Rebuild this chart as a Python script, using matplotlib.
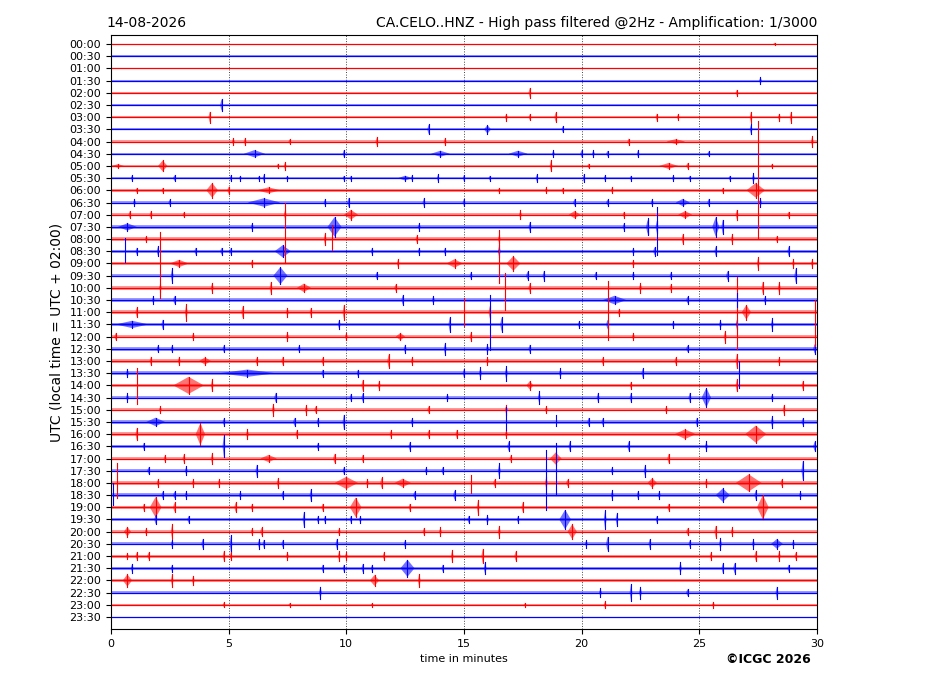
import matplotlib
matplotlib.use("Agg")
import matplotlib.pyplot as plt

# --- data read from the helicorder ---
row_labels = ["%02d:%02d" % (h, m) for h in range(24) for m in (0, 30)]

# background noise half-width of each trace (in row units)
noise = [0.03, 0.07, 0.07, 0.07, 0.07, 0.09, 0.09, 0.09, 0.09, 0.09,
         0.10, 0.10, 0.14, 0.14, 0.14, 0.14, 0.14, 0.14, 0.14, 0.14,
         0.15, 0.15, 0.15, 0.14, 0.14, 0.14, 0.14, 0.14, 0.14, 0.14,
         0.14, 0.14, 0.14, 0.14, 0.14, 0.14, 0.14, 0.14, 0.14, 0.14,
         0.12, 0.12, 0.12, 0.12, 0.12, 0.11, 0.07, 0.03]

# events per row: (minute, half amplitude in rows[, duration in minutes])
row_events = [
    [(28.2, 0.1)],
    [],
    [],
    [(27.6, 0.3)],
    [(17.8, 0.4), (26.6, 0.25)],
    [(4.7, 0.5)],
    [(4.2, 0.45), (16.8, 0.3), (17.8, 0.25), (18.9, 0.4), (23.2, 0.3), (24.1, 0.25), (27.2, 0.45), (28.4, 0.3), (28.9, 0.45)],
    [(13.5, 0.4), (16.0, 0.35, 0.3), (19.2, 0.25), (27.2, 0.4)],
    [(5.2, 0.3), (5.7, 0.3), (7.6, 0.2), (11.3, 0.35), (14.2, 0.3), (22.0, 0.25), (24.0, 0.2, 0.8), (29.8, 0.45)],
    [(6.1, 0.3, 0.9), (9.9, 0.3), (14.0, 0.25, 0.8), (17.3, 0.25, 0.8), (18.8, 0.3), (20.0, 0.3), (20.5, 0.3), (21.1, 0.25), (22.4, 0.3), (25.4, 0.2)],
    [(0.3, 0.15, 0.5), (2.2, 0.45, 0.4), (7.1, 0.2), (7.4, 0.3), (18.7, 0.45), (20.3, 0.2), (23.7, 0.25, 0.8), (24.5, 0.25), (28.1, 0.2)],
    [(0.9, 0.25), (2.7, 0.25), (5.1, 0.25), (5.5, 0.2), (6.3, 0.2), (6.5, 0.3), (7.5, 0.2), (9.9, 0.2), (10.2, 0.2), (12.5, 0.2, 0.6), (12.8, 0.25), (13.9, 0.3), (15.0, 0.25), (16.1, 0.2), (18.1, 0.3), (20.1, 0.3), (21.0, 0.25), (22.1, 0.2), (23.9, 0.25), (24.6, 0.2), (26.3, 0.2), (27.3, 0.4)],
    [(1.1, 0.2), (2.2, 0.2), (4.3, 0.6, 0.5), (5.0, 0.3), (6.7, 0.25, 1.0), (16.5, 0.2), (18.5, 0.25), (19.2, 0.2), (21.3, 0.25), (26.0, 0.2), (27.4, 0.6, 0.8)],
    [(1.0, 0.3), (2.5, 0.25), (6.5, 0.35, 1.4), (9.1, 0.3), (10.1, 0.4), (13.3, 0.35), (15.0, 0.3), (19.7, 0.3), (21.1, 0.25), (23.0, 0.3), (24.3, 0.3, 0.6), (25.4, 0.3), (27.6, 0.35)],
    [(0.8, 0.3), (1.7, 0.3), (3.1, 0.2), (7.4, 0.35), (10.2, 0.4, 0.6), (17.4, 0.35), (19.7, 0.3, 0.5), (21.8, 0.25), (24.4, 0.3, 0.6), (26.6, 0.4), (28.8, 0.25)],
    [(0.7, 0.3, 0.8), (6.0, 0.3), (9.5, 0.8, 0.6), (13.1, 0.3), (17.8, 0.4), (21.8, 0.3), (22.8, 0.6), (23.2, 0.5), (25.7, 0.8, 0.3), (26.0, 0.6)],
    [(1.5, 0.25), (9.1, 0.5), (13.0, 0.3), (16.5, 0.35), (24.3, 0.4), (26.4, 0.4), (28.3, 0.25)],
    [(1.1, 0.3), (2.0, 0.4), (3.6, 0.3), (4.7, 0.3), (5.1, 0.3), (7.3, 0.5, 0.7), (11.1, 0.3), (13.1, 0.3), (14.2, 0.3), (16.5, 0.5), (22.2, 0.3), (23.1, 0.35), (25.7, 0.4), (28.8, 0.4)],
    [(2.9, 0.3, 0.8), (6.0, 0.3), (12.2, 0.35), (14.6, 0.35, 0.7), (17.1, 0.6, 0.6), (22.2, 0.3), (27.5, 0.5), (29.0, 0.35), (29.8, 0.35)],
    [(2.6, 0.6), (7.2, 0.7, 0.6), (11.3, 0.3), (15.3, 0.3), (17.7, 0.35), (18.4, 0.4), (20.6, 0.3), (22.2, 0.3), (23.8, 0.3), (26.2, 0.4), (29.1, 0.6)],
    [(2.1, 0.3), (4.3, 0.4), (6.8, 0.5), (8.2, 0.35, 0.6), (12.1, 0.3), (17.8, 0.4), (22.5, 0.4), (23.8, 0.3), (27.7, 0.5), (28.4, 0.5)],
    [(1.8, 0.3), (2.7, 0.35), (12.4, 0.4), (13.7, 0.35), (21.4, 0.35, 1.0), (24.5, 0.3), (27.8, 0.3)],
    [(1.1, 0.4), (3.2, 0.7), (5.6, 0.5), (7.5, 0.35), (8.5, 0.35), (9.9, 0.6), (16.1, 0.5), (21.6, 0.3), (27.0, 0.6, 0.4)],
    [(0.9, 0.3, 1.4), (2.2, 0.4), (9.7, 0.4), (14.4, 0.6), (16.6, 0.6), (19.9, 0.3), (21.1, 0.4), (23.9, 0.3), (25.9, 0.4), (26.6, 0.4), (28.1, 0.5)],
    [(0.2, 0.3), (3.5, 0.3), (7.5, 0.35), (10.0, 0.3), (12.3, 0.3, 0.4), (15.3, 0.35), (22.2, 0.3), (26.1, 0.5)],
    [(2.0, 0.3), (2.6, 0.3), (4.8, 0.3), (8.0, 0.3), (12.5, 0.35), (14.2, 0.5), (16.0, 0.4), (17.8, 0.35), (24.5, 0.3), (29.9, 0.4)],
    [(1.7, 0.35), (2.9, 0.35), (4.0, 0.3, 0.5), (6.2, 0.3), (7.3, 0.35), (9.0, 0.3), (11.8, 0.55), (12.8, 0.3), (16.0, 0.3), (20.9, 0.3), (24.0, 0.3), (26.6, 0.6), (28.4, 0.3)],
    [(0.7, 0.35), (5.8, 0.3, 2.4), (9.0, 0.3), (10.5, 0.3), (15.0, 0.35), (15.7, 0.5), (16.8, 0.6), (19.1, 0.4), (22.6, 0.4)],
    [(3.3, 0.7, 1.3), (4.3, 0.5), (10.7, 0.45), (11.4, 0.4), (17.8, 0.35, 0.3), (22.1, 0.3), (26.6, 0.5), (29.4, 0.35)],
    [(0.7, 0.35), (7.0, 0.4), (10.2, 0.3), (10.7, 0.35), (14.3, 0.3), (18.2, 0.5), (20.7, 0.4), (22.1, 0.4), (24.6, 0.4), (25.3, 0.8, 0.4), (28.1, 0.3)],
    [(2.1, 0.3), (6.9, 0.5), (8.3, 0.4), (8.7, 0.3), (13.5, 0.3), (16.8, 0.4), (18.5, 0.3), (23.6, 0.3), (28.6, 0.4)],
    [(1.9, 0.35, 0.8), (4.8, 0.3), (7.8, 0.35), (8.8, 0.3), (9.9, 0.6), (12.8, 0.3), (20.3, 0.35), (20.9, 0.3), (24.9, 0.35), (28.1, 0.5), (29.4, 0.3)],
    [(1.1, 0.5), (3.8, 0.9, 0.4), (5.8, 0.4), (7.9, 0.3), (11.9, 0.3), (13.5, 0.3), (14.7, 0.35), (16.8, 0.3), (24.4, 0.4, 0.9), (27.4, 0.7, 0.9)],
    [(1.4, 0.3), (4.8, 0.9), (8.8, 0.3), (12.7, 0.35), (16.9, 0.4), (19.5, 0.4), (22.0, 0.4), (25.3, 0.4), (29.9, 0.4)],
    [(2.3, 0.3), (3.1, 0.35), (4.3, 0.45), (6.7, 0.3, 0.7), (9.5, 0.4), (10.7, 0.3), (17.0, 0.3), (18.9, 0.5, 0.5), (23.7, 0.4)],
    [(1.6, 0.3), (3.2, 0.35), (6.2, 0.5), (9.9, 0.3), (13.4, 0.3), (14.1, 0.3), (16.5, 0.6), (21.3, 0.3), (22.7, 0.5), (29.4, 0.8)],
    [(2.0, 0.3), (3.5, 0.3), (4.6, 0.3), (7.1, 0.4), (10.0, 0.5, 1.0), (10.9, 0.3), (11.5, 0.45), (12.4, 0.35, 0.7), (16.3, 0.3), (18.5, 0.5), (19.4, 0.3), (23.0, 0.4, 0.4), (25.3, 0.3), (27.1, 0.7, 1.1), (28.5, 0.3)],
    [(2.2, 0.3), (2.7, 0.3), (3.2, 0.3), (5.5, 0.3), (7.3, 0.3), (8.5, 0.5), (12.9, 0.3), (14.6, 0.4), (21.3, 0.4), (22.4, 0.35), (23.3, 0.3), (26.0, 0.55, 0.6), (27.4, 0.4), (29.3, 0.3)],
    [(1.4, 0.3), (1.9, 0.85, 0.5), (2.7, 0.4), (5.3, 0.4), (6.0, 0.3), (9.0, 0.3), (10.4, 0.8, 0.5), (12.7, 0.3), (15.6, 0.6), (17.5, 0.4), (23.7, 0.3), (27.7, 1.0, 0.5)],
    [(1.9, 0.4), (3.3, 0.3), (8.2, 0.6), (8.8, 0.3), (9.1, 0.3), (10.2, 0.3), (10.6, 0.3), (15.2, 0.3), (16.0, 0.4), (17.3, 0.3), (19.3, 0.8, 0.5), (21.0, 0.8), (21.5, 0.5), (23.2, 0.3)],
    [(0.7, 0.4, 0.3), (1.5, 0.3), (2.6, 0.6), (6.0, 0.3), (6.4, 0.35), (9.7, 0.3), (13.3, 0.3), (14.0, 0.35), (16.5, 0.5), (19.6, 0.6, 0.4), (24.5, 0.3), (25.7, 0.5), (26.4, 0.35)],
    [(2.6, 0.3), (3.9, 0.4), (5.1, 0.7), (6.3, 0.4), (6.5, 0.35), (7.3, 0.3), (9.6, 0.4), (12.5, 0.3), (20.2, 0.3), (21.1, 0.6), (22.9, 0.4), (24.6, 0.3), (25.9, 0.5), (27.3, 0.4), (28.3, 0.4, 0.5), (29.0, 0.3)],
    [(0.7, 0.25), (1.1, 0.3), (1.6, 0.3), (4.8, 0.4), (5.1, 0.3), (7.5, 0.3), (9.7, 0.4), (10.0, 0.3), (11.6, 0.3), (14.5, 0.5), (15.8, 0.6), (17.2, 0.4), (25.5, 0.3), (27.4, 0.4), (28.4, 0.4), (29.1, 0.3)],
    [(0.9, 0.35), (2.6, 0.3), (9.0, 0.3), (9.9, 0.3), (10.7, 0.35), (11.1, 0.3), (12.6, 0.7, 0.6), (14.1, 0.3), (15.9, 0.5), (24.2, 0.5), (26.0, 0.4), (26.5, 0.45), (28.8, 0.3)],
    [(0.7, 0.5, 0.4), (2.6, 0.5), (3.5, 0.4), (11.2, 0.45, 0.4), (13.1, 0.55)],
    [(8.9, 0.5), (20.8, 0.35), (22.1, 0.7), (22.5, 0.5), (24.5, 0.3), (28.3, 0.5)],
    [(4.8, 0.2), (7.6, 0.15), (11.1, 0.15), (17.6, 0.15), (21.0, 0.3), (25.6, 0.25)],
    [],
]

# large single spikes: row, minute, extent above, extent below (rows)
spike_row = [12, 14, 16, 18, 16, 20, 15, 15, 17, 22, 22, 21, 22, 23, 24, 27, 28, 31, 31, 35, 35, 36, 37, 36]
spike_min = [27.5, 7.4, 9.4, 2.1, 16.5, 16.75, 23.2, 22.8, 0.6, 21.1, 26.6, 26.6, 15.0, 16.1, 29.9, 26.7, 1.1, 16.8, 18.9, 18.5, 18.9, 0.25, 0.1, 15.3]
spike_up = [5.7, 1.0, 1.15, 2.6, 0.75, 1.2, 1.6, 0.7, 1.1, 2.6, 2.9, 0.6, 1.2, 2.4, 3.0, 1.0, 1.4, 1.2, 0.6, 1.7, 2.3, 1.6, 1.0, 0.65]
spike_down = [3.9, 4.0, 0.9, 2.8, 3.6, 1.8, 2.3, 0.7, 0.9, 2.3, 3.0, 0.6, 1.1, 2.1, 0.8, 1.2, 1.5, 0.7, 0.3, 3.2, 2.0, 1.2, 0.8, 0.85]

colors = ["red", "blue"]

fig = plt.figure(figsize=(9.27, 6.96), dpi=100)
ax = fig.add_axes([0.1197, 0.0963, 0.7616, 0.8534])

for i in range(len(row_labels)):
    c = colors[i % 2]
    n = noise[i]
    ax.fill_between([0, 30], [i - n] * 2, [i + n] * 2, color=c, alpha=0.4, lw=0)
    ax.plot([0, 30], [i, i], color=c, lw=0.9)
    for ev in row_events[i]:
        t, a = ev[0], ev[1]
        d = ev[2] if len(ev) > 2 else 0.12
        ax.fill([t - d / 2, t, t + d / 2, t], [i, i - a, i, i + a], color=c, alpha=0.55, lw=0)
        ax.plot([t, t], [i - a, i + a], color=c, lw=0.8)

for r, t, up, dn in zip(spike_row, spike_min, spike_up, spike_down):
    ax.plot([t, t], [r - up, r + dn], color=colors[r % 2], lw=0.8)

for x in range(5, 30, 5):
    ax.axvline(x, color="#444444", ls=":", lw=0.7, zorder=0)

ax.set_xlim(0, 30)
ax.set_ylim(47.98, -0.74)
ax.set_xticks(range(0, 31, 5))
ax.set_yticks(range(len(row_labels)))
ax.set_yticklabels(row_labels)
ax.tick_params(labelsize=8)
ax.set_xlabel("time in minutes", fontsize=8)
ax.set_ylabel("UTC (local time = UTC + 02:00)", fontsize=10)
ax.set_title("14-08-2026", loc="left", fontsize=10, x=-0.006)
ax.set_title("CA.CELO..HNZ - High pass filtered @2Hz - Amplification: 1/3000",
             loc="right", fontsize=10)
fig.text(0.875, 0.052, "©ICGC 2026", fontsize=9, fontweight="bold",
         ha="right", va="center", family=["Liberation Sans Narrow", "DejaVu Sans"])

fig.savefig("out.png", dpi=100)
